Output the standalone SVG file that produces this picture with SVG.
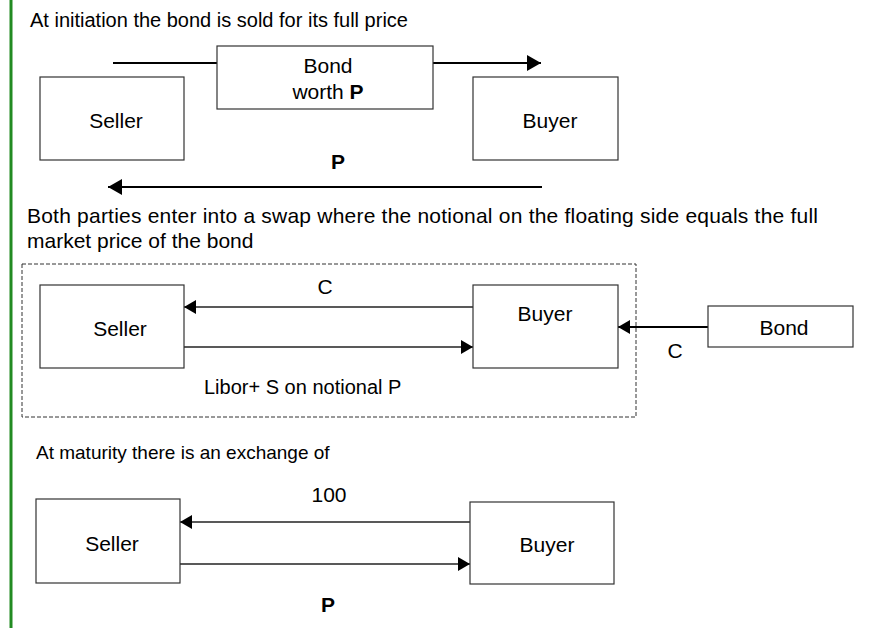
<svg xmlns="http://www.w3.org/2000/svg" width="874" height="628" viewBox="0 0 874 628">
<style>
text{font-family:"Liberation Sans",Arial,sans-serif;fill:#000}
.t{font-size:20px}
.l{font-size:21px;text-anchor:middle}
.b{font-weight:bold}
.box{fill:#fff;stroke:#333;stroke-width:1.2}
.a2{stroke:#000;stroke-width:2;fill:none}
.a1{stroke:#222;stroke-width:1.4;fill:none}
</style>
<defs>
<marker id="ah" markerUnits="userSpaceOnUse" markerWidth="15" markerHeight="16" refX="14" refY="8" orient="auto"><path d="M0,0 L14,8 L0,16 z" fill="#000"/></marker>
<marker id="as" markerUnits="userSpaceOnUse" markerWidth="13" markerHeight="14" refX="12" refY="7" orient="auto"><path d="M0,0 L12,7 L0,14 z" fill="#000"/></marker>
</defs>
<line x1="11" y1="0" x2="11" y2="628" stroke="#228B22" stroke-width="3"/>

<text class="t" x="30" y="27">At initiation the bond is sold for its full price</text>
<g id="connectors">
<line class="a2" x1="113" y1="63" x2="217" y2="63"/>
<line class="a2" x1="433" y1="63" x2="541" y2="63" marker-end="url(#ah)"/>
<line class="a2" x1="542" y1="187" x2="108" y2="187" marker-end="url(#ah)"/>
<line class="a1" x1="473" y1="307" x2="184" y2="307" marker-end="url(#as)"/>
<line class="a1" x1="184" y1="347" x2="473" y2="347" marker-end="url(#as)"/>
<line class="a2" x1="708" y1="327" x2="618" y2="327" marker-end="url(#as)"/>
<line class="a1" x1="470" y1="522" x2="180" y2="522" marker-end="url(#as)"/>
<line class="a1" x1="180" y1="564" x2="470" y2="564" marker-end="url(#as)"/>
</g>
<g id="bond1"><rect class="box" x="217" y="46" width="216" height="63"/>
<text class="l" x="328" y="73">Bond</text>
<text class="l" x="328" y="99">worth <tspan class="b">P</tspan></text></g>
<g id="seller1"><rect class="box" x="40" y="77" width="144" height="83"/><text class="l" x="116" y="128">Seller</text></g>
<g id="buyer1"><rect class="box" x="473" y="77" width="145" height="83"/><text class="l" x="550" y="128">Buyer</text></g>
<text class="l b" x="338" y="169">P</text>

<text x="27" y="223" style="font-size:21px" textLength="791" lengthAdjust="spacing">Both parties enter into a swap where the notional on the floating side equals the full</text>
<text x="27" y="248" style="font-size:21px">market price of the bond</text>
<rect id="swap" x="22" y="264" width="614" height="153" fill="none" stroke="#333" stroke-width="1" stroke-dasharray="4,2"/>
<g id="seller2"><rect class="box" x="40" y="285" width="144" height="83"/><text class="l" x="120" y="336">Seller</text></g>
<g id="buyer2"><rect class="box" x="473" y="285" width="145" height="83"/><text class="l" x="545" y="321">Buyer</text></g>
<g id="bond2"><rect class="box" x="708" y="306" width="145" height="41"/><text class="l" x="784" y="335">Bond</text></g>
<text class="l" x="325" y="294">C</text>
<text class="t" x="204" y="394">Libor+ S on notional P</text>
<text class="l" x="675" y="358">C</text>

<text x="36" y="459" style="font-size:19px">At maturity there is an exchange of</text>
<g id="seller3"><rect class="box" x="36" y="499" width="144" height="84"/><text class="l" x="112" y="551">Seller</text></g>
<g id="buyer3"><rect class="box" x="470" y="502" width="144" height="82"/><text class="l" x="547" y="552">Buyer</text></g>
<text class="l" x="329" y="502">100</text>
<text class="l b" x="328" y="612">P</text>
</svg>
